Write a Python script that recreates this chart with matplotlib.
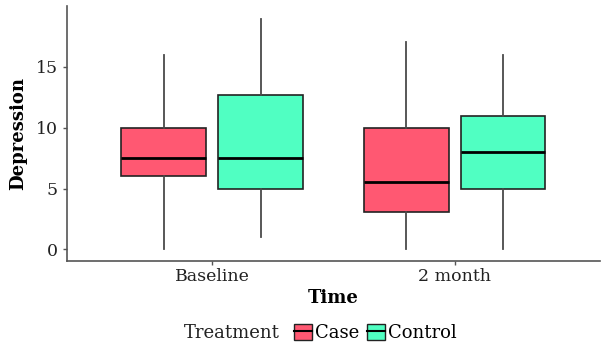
import matplotlib
matplotlib.use('Agg')
import matplotlib.pyplot as plt
from matplotlib.patches import Patch
from matplotlib.lines import Line2D

plt.rcParams['font.family'] = ['DejaVu Serif']

# Data
times = ['Baseline', '2 month']
groups = ['Case', 'Control']
colors = ['#FF5872', '#50FFC2']

# per group: [baseline, 2 month]
whislo = {'Case': [0, 0], 'Control': [1, 0]}
q1 = {'Case': [6, 3.1], 'Control': [5, 5]}
med = {'Case': [7.5, 5.55], 'Control': [7.5, 8]}
q3 = {'Case': [10, 10], 'Control': [12.7, 11]}
whishi = {'Case': [16, 17], 'Control': [18.9, 16]}

fig = plt.figure(figsize=(6.03, 3.49), dpi=100)
ax = fig.add_axes([0.111, 0.252, 0.884, 0.731])

offsets = [-0.2, 0.2]
for g, off, col in zip(groups, offsets, colors):
    stats = []
    for i in range(len(times)):
        stats.append({'whislo': whislo[g][i], 'q1': q1[g][i], 'med': med[g][i],
                      'q3': q3[g][i], 'whishi': whishi[g][i], 'fliers': []})
    ax.bxp(stats, positions=[i + 1 + off for i in range(len(times))], widths=0.35,
           patch_artist=True, showcaps=False,
           boxprops=dict(facecolor=col, edgecolor='#222222', linewidth=1.2),
           medianprops=dict(color='black', linewidth=2),
           whiskerprops=dict(color='#4a4a4a', linewidth=1.3))

ax.set_xlim(0.4, 2.6)
ax.set_ylim(-0.95, 20)
ax.set_xticks([1, 2])
ax.set_xticklabels(times)
ax.set_yticks([0, 5, 10, 15])
for s in ['top', 'right']:
    ax.spines[s].set_visible(False)
for s in ['left', 'bottom']:
    ax.spines[s].set_color('#555555')
    ax.spines[s].set_linewidth(1.2)
ax.tick_params(colors='#555555', labelcolor='#222222', labelsize=12.5, length=3, width=1)
ax.tick_params(axis='x', pad=2)
ax.set_xlabel('Time', fontsize=13, fontweight='bold', labelpad=3)
ax.set_ylabel('Depression', fontsize=13, fontweight='bold', labelpad=6)

handles = [(Patch(facecolor=c, edgecolor='#222222', linewidth=1),
            Line2D([], [], color='black', linewidth=1.5)) for c in colors]
fig.text(0.305, 0.045, 'Treatment', fontsize=13, va='center', ha='left', color='#222222')
fig.legend(handles, groups, loc='center left', bbox_to_anchor=(0.487, 0.045), ncol=2,
           frameon=False, fontsize=13, handlelength=1.0, handleheight=1.0,
           handletextpad=0.2, columnspacing=0.4, borderpad=0, borderaxespad=0)

fig.savefig('out.png', dpi=100)
